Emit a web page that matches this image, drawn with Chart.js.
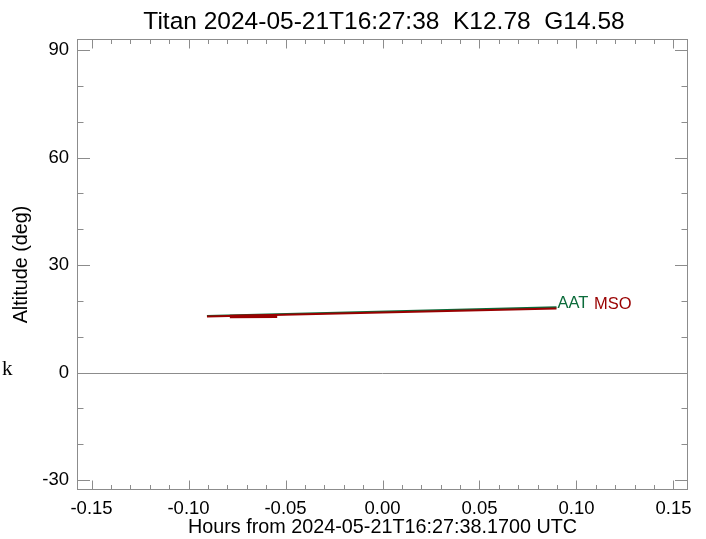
<!DOCTYPE html>
<html>
<head>
<meta charset="utf-8">
<script src="https://cdn.jsdelivr.net/npm/chart.js@4"></script>
<style>
  html, body { margin: 0; padding: 0; background: #fff; }
  canvas { display: block; }
</style>
</head>
<body>
<canvas id="c" width="706" height="539"></canvas>
<script>
// ---- data ----
const titleText = "Titan 2024-05-21T16:27:38  K12.78  G14.58";
const xTitle = "Hours from 2024-05-21T16:27:38.1700 UTC";
const yTitle = "Altitude (deg)";
const sideLabel = "k";

const hoursAAT = [-0.0905, 0.0897];
const altAAT   = [15.8, 18.2];
const hoursMSO = [-0.0905, 0.0897];
const altMSO   = [15.6, 17.9];
const hoursSeg = [-0.0787, -0.0543];
const altSeg   = [15.6, 15.7];

const xTicks = [-0.15, -0.10, -0.05, 0.00, 0.05, 0.10, 0.15];
const xMinorTicks = [-0.15,-0.14,-0.13,-0.12,-0.11,-0.10,-0.09,-0.08,-0.07,-0.06,-0.05,-0.04,-0.03,-0.02,-0.01,0,
                     0.01,0.02,0.03,0.04,0.05,0.06,0.07,0.08,0.09,0.10,0.11,0.12,0.13,0.14,0.15];
const yTicks = [-30, 0, 30, 60, 90];
const yMinorTicks = [-30,-20,-10,0,10,20,30,40,50,60,70,80,90];
const xRange = [-0.1575, 0.1575];
const yRange = [-32.8, 93.1];

const GREEN = '#0b6b3a';
const RED = '#990000';
const AXIS = '#8c8c8c';
const FONT = "'Liberation Sans', Arial, sans-serif";

const pts = (xs, ys) => xs.map((x, i) => ({x: x, y: ys[i]}));

const framePlugin = {
  id: 'frame',
  beforeDatasetsDraw(chart) {
    const {ctx, chartArea: a, scales: {x, y}} = chart;
    ctx.save();
    ctx.strokeStyle = AXIS;
    ctx.lineWidth = 1;
    const y0 = Math.round(y.getPixelForValue(0)) + 0.5;
    ctx.beginPath(); ctx.moveTo(a.left, y0); ctx.lineTo(a.right, y0); ctx.stroke();
    ctx.restore();
  },
  afterDatasetsDraw(chart) {
    const {ctx, chartArea: a, scales: {x, y}} = chart;
    ctx.save();
    ctx.strokeStyle = AXIS;
    ctx.lineWidth = 1;
    const L = Math.round(a.left) + 0.5, R = Math.round(a.right) - 0.5;
    const T = Math.round(a.top) + 0.5, B = Math.round(a.bottom) - 0.5;
    ctx.strokeRect(L, T, R - L, B - T);
    ctx.beginPath();
    xMinorTicks.forEach(v => {
      const major = xTicks.some(t => Math.abs(t - v) < 1e-9);
      const len = major ? 9 : 4.5;
      const px = Math.round(x.getPixelForValue(v)) + 0.5;
      ctx.moveTo(px, B); ctx.lineTo(px, B - len);
      ctx.moveTo(px, T); ctx.lineTo(px, T + len);
    });
    yMinorTicks.forEach(v => {
      const major = yTicks.includes(v);
      const len = major ? 12.5 : 6;
      const py = Math.round(y.getPixelForValue(v)) + 0.5;
      ctx.moveTo(L, py); ctx.lineTo(L + len, py);
      ctx.moveTo(R, py); ctx.lineTo(R - len, py);
    });
    ctx.stroke();

    // series labels at the end of the lines
    ctx.font = "16.5px " + FONT;
    ctx.textBaseline = 'alphabetic';
    ctx.textAlign = 'left';
    const ex = x.getPixelForValue(hoursAAT[hoursAAT.length - 1]) + 1;
    const ey = y.getPixelForValue(altAAT[altAAT.length - 1]);
    ctx.fillStyle = GREEN;
    ctx.fillText('AAT', ex, ey + 1);
    const w = ctx.measureText('AAT ').width;
    ctx.fillStyle = RED;
    ctx.fillText('MSO', ex + w + 1, ey + 1.5);

    // title
    ctx.fillStyle = '#000';
    ctx.font = "24.5px " + FONT;
    ctx.textAlign = 'center';
    ctx.textBaseline = 'alphabetic';
    ctx.fillText(titleText, (a.left + a.right) / 2 + 1.5, 29);

    // stray side label
    ctx.font = "21px 'Liberation Serif', 'DejaVu Serif', serif";
    ctx.textAlign = 'left';
    ctx.fillText(sideLabel, 2, 375);
    ctx.restore();
  }
};

new Chart(document.getElementById('c'), {
  type: 'line',
  data: {
    datasets: [
      { label: 'MSO part', data: pts(hoursSeg, altSeg), borderColor: RED, borderWidth: 3.5, pointRadius: 0, order: 0 },
      { label: 'MSO', data: pts(hoursMSO, altMSO), borderColor: RED, borderWidth: 2, pointRadius: 0, order: 1 },
      { label: 'AAT', data: pts(hoursAAT, altAAT), borderColor: GREEN, borderWidth: 2, pointRadius: 0, order: 2 }
    ]
  },
  options: {
    responsive: false,
    animation: false,
    devicePixelRatio: 1,
    layout: { padding: { top: 39, right: 18, left: 0, bottom: 0 } },
    plugins: { legend: { display: false }, title: { display: false }, tooltip: { enabled: false } },
    scales: {
      x: {
        type: 'linear', min: xRange[0], max: xRange[1],
        grid: { display: false, drawTicks: false },
        border: { display: false },
        afterBuildTicks: s => { s.ticks = xTicks.map(v => ({value: v})); },
        afterFit: s => { s.height = 49; },
        ticks: { color: '#000', padding: 8, font: { family: FONT, size: 18.5 }, maxRotation: 0, autoSkip: false,
                 callback: v => v.toFixed(2) },
        title: { display: true, text: xTitle, color: '#000', font: { family: FONT, size: 19.8 }, padding: { top: 0, bottom: 0 } }
      },
      y: {
        type: 'linear', min: yRange[0], max: yRange[1],
        grid: { display: false, drawTicks: false },
        border: { display: false },
        afterBuildTicks: s => { s.ticks = yTicks.map(v => ({value: v})); },
        afterFit: s => { s.width = 77; },
        ticks: { color: '#000', padding: 8, font: { family: FONT, size: 18.5 }, autoSkip: false,
                 callback: v => String(v) },
        title: { display: true, text: yTitle, color: '#000', font: { family: FONT, size: 19.8 }, padding: { top: 10, bottom: 0 } }
      }
    }
  },
  plugins: [framePlugin]
});
</script>
</body>
</html>
